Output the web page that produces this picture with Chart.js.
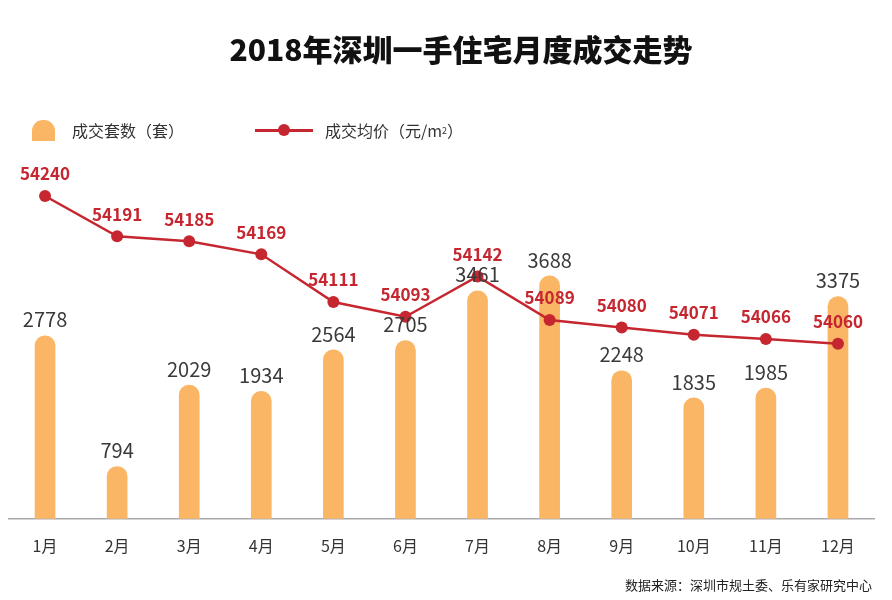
<!DOCTYPE html>
<html>
<head>
<meta charset="utf-8">
<script src="https://cdn.jsdelivr.net/npm/chart.js@4/dist/chart.umd.min.js"></script>
<style>
  body { margin: 0; background: #fff; font-family: "Noto Sans CJK SC", "Noto Sans", sans-serif; }
  #wrap { position: relative; width: 892px; height: 600px; overflow: hidden; }
  #chart { position: absolute; left: 0; top: 0; }
  .title { position: absolute; left: 0; width: 922px; top: 26px; text-align: center; font-size: 30px; font-weight: 900; color: #111; }
  .legend { position: absolute; top: 118px; font-size: 16px; color: #333; display: flex; align-items: center; }
  .legend .bar { width: 23px; height: 21px; background: #FAB565; border-radius: 11px 11px 0 0; margin-right: 17px; }
  .legend .line { position: relative; width: 58px; height: 3px; background: #C6262F; margin-right: 12px; }
  .legend .line::after { content: ""; position: absolute; left: 23px; top: -5px; width: 12px; height: 12px; border-radius: 50%; background: #C6262F; }
  .source { position: absolute; right: 20px; top: 575px; font-size: 13px; color: #222; }
</style>
</head>
<body>
<div id="wrap">
  <canvas id="chart" width="892" height="600"></canvas>
  <div class="title">2018年深圳一手住宅月度成交走势</div>
  <div class="legend" style="left:32px"><span class="bar"></span>成交套数（套）</div>
  <div class="legend" style="left:255px"><span class="line"></span>成交均价（元/m<sup style="font-size:9px">2</sup>）</div>
  <div class="source">数据来源：深圳市规土委、乐有家研究中心</div>
</div>
<script>
const months = ['1月', '2月', '3月', '4月', '5月', '6月', '7月', '8月', '9月', '10月', '11月', '12月'];
const volumes = [2778, 794, 2029, 1934, 2564, 2705, 3461, 3688, 2248, 1835, 1985, 3375];
const prices = [54240, 54191, 54185, 54169, 54111, 54093, 54142, 54089, 54080, 54071, 54066, 54060];

const ORANGE = '#FAB565';
const RED = '#C6262F';

// draws the value labels over bars and points
const valueLabels = {
  id: 'valueLabels',
  afterDatasetsDraw(chart) {
    const { ctx } = chart;
    ctx.save();
    ctx.textAlign = 'center';
    ctx.textBaseline = 'middle';

    ctx.font = '20px "Noto Sans CJK SC", "Noto Sans", sans-serif';
    ctx.fillStyle = '#3a3a3a';
    chart.getDatasetMeta(1).data.forEach((bar, i) => {
      ctx.fillText(String(volumes[i]), bar.x, bar.y - 16);
    });

    ctx.font = 'bold 17px "Noto Sans CJK SC", "Noto Sans", sans-serif';
    ctx.fillStyle = RED;
    chart.getDatasetMeta(0).data.forEach((pt, i) => {
      ctx.fillText(String(prices[i]), pt.x, pt.y - 22);
    });
    ctx.restore();
  },
};

new Chart(document.getElementById('chart'), {
  data: {
    labels: months,
    datasets: [
      {
        type: 'line',
        label: '成交均价（元/m²）',
        data: prices,
        yAxisID: 'y2',
        borderColor: RED,
        backgroundColor: RED,
        borderWidth: 2.5,
        pointRadius: 6,
        pointBackgroundColor: RED,
        pointBorderWidth: 0,
        tension: 0,
        order: 0,
      },
      {
        type: 'bar',
        label: '成交套数（套）',
        data: volumes,
        yAxisID: 'y',
        backgroundColor: ORANGE,
        barThickness: 20,
        borderRadius: { topLeft: 10, topRight: 10 },
        borderSkipped: 'bottom',
        order: 1,
      },
    ],
  },
  options: {
    responsive: false,
    animation: false,
    layout: { padding: { top: 150, left: 9, right: 18, bottom: 26 } },
    plugins: {
      legend: { display: false },
      tooltip: { enabled: false },
    },
    scales: {
      x: {
        grid: { display: false, drawTicks: false },
        border: { color: '#A9A9AE', width: 1.5 },
        ticks: {
          padding: 18,
          color: '#333',
          font: { size: 16, family: '"Noto Sans CJK SC", "Noto Sans", sans-serif' },
        },
      },
      y: {
        display: false,
        min: 0,
        max: 5600,
      },
      y2: {
        display: false,
        min: 53847,
        max: 54296,
      },
    },
  },
  plugins: [valueLabels],
});
</script>
</body>
</html>
